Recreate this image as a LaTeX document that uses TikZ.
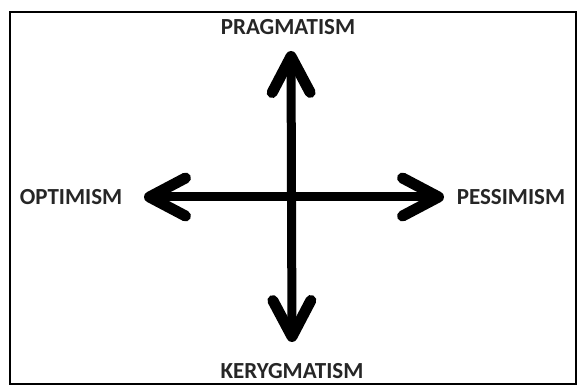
\documentclass[tikz,border=0pt]{standalone}
\usepackage{fontspec}
\setmainfont{Carlito}
\usetikzlibrary{positioning,arrows.meta}

\begin{document}
\begin{tikzpicture}[
  x=1pt, y=-1pt,
  label/.style={font=\fontsize{23}{26}\selectfont\bfseries, text=black!85, inner sep=0pt},
  axis/.style={line width=9pt, line cap=round, line join=round, <->,
    >={Straight Barb[length=36pt, width=38pt, line width=11pt, line cap=round, line join=round]}}
]
\useasboundingbox (0,0) rectangle (578,387);
\draw[line width=2.5pt] (10,12) rectangle (576,384);
% labels
\node[label] (prag) at (288,27) {PRAGMATISM};
\node[label] (keryg) at (292,371) {KERYGMATISM};
\node[label] (opt) at (71,197) {OPTIMISM};
\node[label] (pess) at (511,197) {PESSIMISM};
% axes
\coordinate (top) at (291,51);
\coordinate (bottom) at (292,342);
\coordinate (left) at (144,197);
\coordinate (right) at (444,197);
\draw[axis] (top) -- (bottom);
\draw[axis] (left) -- (right);
\end{tikzpicture}
\end{document}
